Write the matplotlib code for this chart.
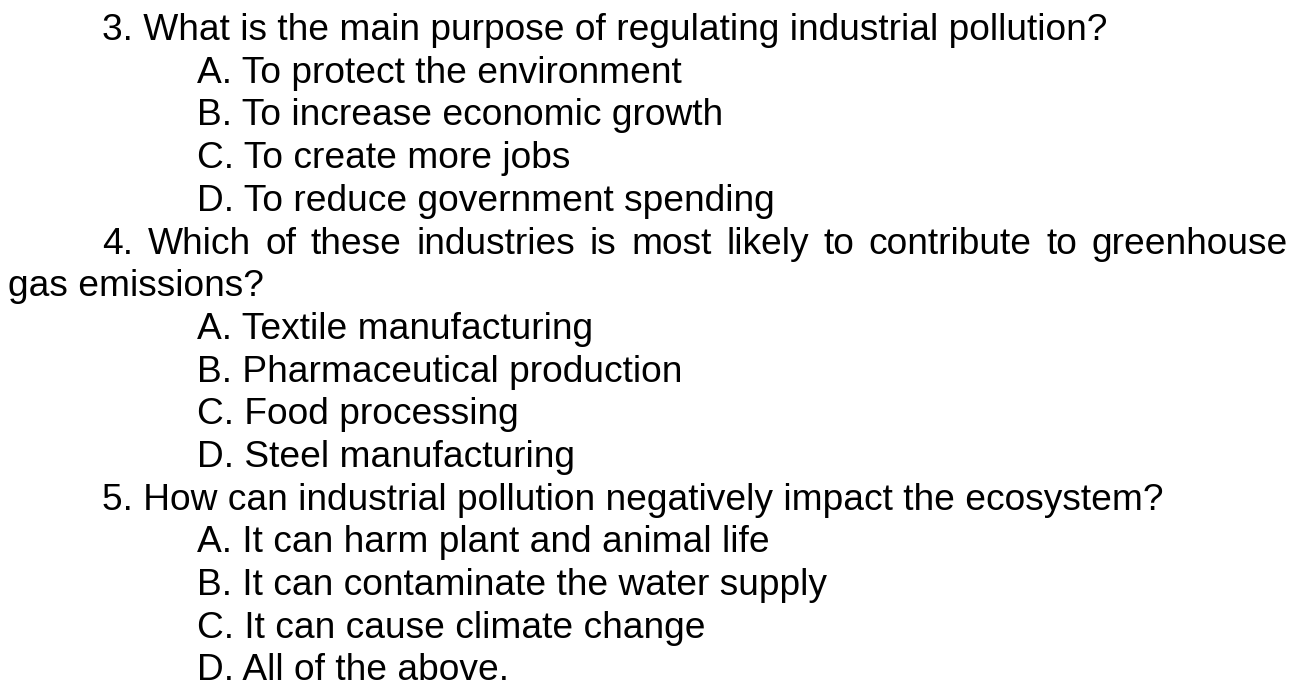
import matplotlib
matplotlib.use("Agg")
import matplotlib.pyplot as plt

# Conteúdo do texto (perguntas e alternativas)
q3 = "3. What is the main purpose of regulating industrial pollution?"
q3_opcoes = ["A. To protect the environment",
             "B. To increase economic growth",
             "C. To create more jobs",
             "D. To reduce government spending"]
q4_linha1 = "4. Which of these industries is most likely to contribute to greenhouse"
q4_linha2 = "gas emissions?"
q4_opcoes = ["A. Textile manufacturing",
             "B. Pharmaceutical production",
             "C. Food processing",
             "D. Steel manufacturing"]
q5 = "5. How can industrial pollution negatively impact the ecosystem?"
q5_opcoes = ["A. It can harm plant and animal life",
             "B. It can contaminate the water supply",
             "C. It can cause climate change",
             "D. All of the above."]

W, H = 1304, 689
fig = plt.figure(figsize=(W / 100, H / 100), dpi=100)
fig.patch.set_facecolor("white")

fonte = dict(family="Liberation Sans", fontsize=26.7, color="black", va="baseline")
x_q, x_op, x_esq, x_dir = 102, 197, 8, 1288
y0, passo = 40, 42.7


def escrever(texto, x, linha):
    y = y0 + linha * passo
    return fig.text(x / W, 1 - y / H, texto, **fonte)


def justificar(texto, x_ini, x_fim, linha):
    # distribui as palavras entre as margens (texto justificado)
    palavras = texto.split(" ")
    renderer = fig.canvas.get_renderer()
    larguras = []
    for p in palavras:
        t = escrever(p, 0, linha)
        larguras.append(t.get_window_extent(renderer).width)
        t.remove()
    espaco = (x_fim - x_ini - sum(larguras)) / (len(palavras) - 1)
    x = x_ini
    for p, w in zip(palavras, larguras):
        escrever(p, x, linha)
        x += w + espaco


linha = 0
escrever(q3, x_q, linha)
for op in q3_opcoes:
    linha += 1
    escrever(op, x_op, linha)
linha += 1
justificar(q4_linha1, x_q, x_dir, linha)
linha += 1
escrever(q4_linha2, x_esq, linha)
for op in q4_opcoes:
    linha += 1
    escrever(op, x_op, linha)
linha += 1
escrever(q5, x_q, linha)
for op in q5_opcoes:
    linha += 1
    escrever(op, x_op, linha)

fig.savefig("out.png", dpi=100)
